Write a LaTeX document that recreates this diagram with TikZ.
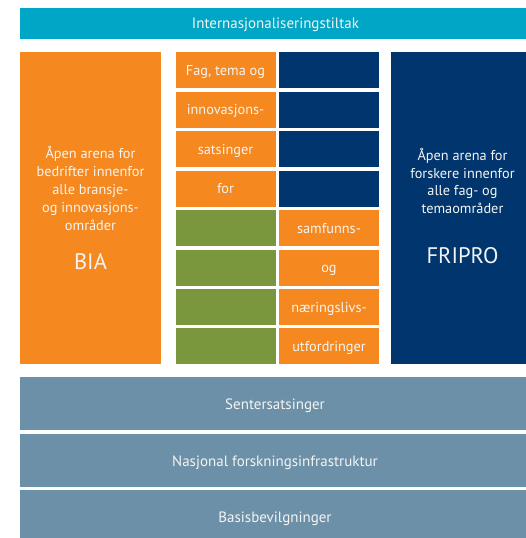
\documentclass[tikz,border=0pt]{standalone}
\usepackage{fontspec}
\setmainfont{PT Sans}
\definecolor{cyanbar}{HTML}{00A6C6}
\definecolor{orng}{HTML}{F5891F}
\definecolor{navy}{HTML}{00356D}
\definecolor{grn}{HTML}{7A973D}
\definecolor{slate}{HTML}{6C90A7}
\definecolor{txt}{HTML}{F4F4F4}
\tikzset{
  box/.style={inner sep=0pt, outer sep=0pt, anchor=north west},
  lbl/.style={inner sep=0pt, anchor=base, text=txt, font=\fontsize{15}{18}\selectfont},
  clbl/.style={inner sep=0pt, anchor=base, text=txt, font=\fontsize{14.3}{18}\selectfont},
  cell/.style={box, minimum width=100pt, minimum height=36pt},
  huge/.style={inner sep=0pt, anchor=base, text=txt, font=\fontsize{22.5}{26}\selectfont}
}
\begin{document}
\begin{tikzpicture}[x=1pt,y=-1pt]
\useasboundingbox (0,0) rectangle (526,538);
\begin{scope}
\clip (0,0) rectangle (526,538);
% top bar
\node[box, fill=cyanbar, minimum width=511pt, minimum height=31pt] (top) at (20,8) {};
\node[lbl] (toptxt) at (275.5,28) {Internasjonaliseringstiltak};
% left big
\node[box, fill=orng, minimum width=141pt, minimum height=312pt] (bia) at (20,52) {};
\node[clbl] (l1) at (90.5,158) {Åpen arena for};
\node[clbl] (l2) at (90.5,176) {bedrifter innenfor};
\node[clbl] (l3) at (90.5,194) {alle bransje-};
\node[clbl] (l4) at (90.5,212) {og innovasjons-};
\node[clbl] (l5) at (90.5,230) {områder};
\node[huge] (bialbl) at (90.5,269) {BIA};
% right big
\node[box, fill=navy, minimum width=141pt, minimum height=312pt] (fri) at (391,52) {};
\node[clbl] (r1) at (462.5,160) {Åpen arena for};
\node[clbl] (r2) at (462.5,178) {forskere innenfor};
\node[clbl] (r3) at (462.5,195.5) {alle fag- og};
\node[clbl] (r4) at (462.5,213) {temaområder};
\node[huge] (frilbl) at (462.5,263) {FRIPRO};
% middle cells
\node[cell, fill=orng] (a1) at (175.5,52) {};
\node[cell, fill=orng] (a2) at (175.5,91.5) {};
\node[cell, fill=orng] (a3) at (175.5,131) {};
\node[cell, fill=orng] (a4) at (175.5,170.5) {};
\node[cell, fill=grn] (a5) at (175.5,210) {};
\node[cell, fill=grn] (a6) at (175.5,249.5) {};
\node[cell, fill=grn] (a7) at (175.5,289) {};
\node[cell, fill=grn] (a8) at (175.5,328) {};
\node[cell, fill=navy] (b1) at (279,52) {};
\node[cell, fill=navy] (b2) at (279,91.5) {};
\node[cell, fill=navy] (b3) at (279,131) {};
\node[cell, fill=navy] (b4) at (279,170.5) {};
\node[cell, fill=orng] (b5) at (279,210) {};
\node[cell, fill=orng] (b6) at (279,249.5) {};
\node[cell, fill=orng] (b7) at (279,289) {};
\node[cell, fill=orng] (b8) at (279,328) {};
\node[clbl] (t1) at ([yshift=-5pt]a1.center) {Fag, tema og};
\node[clbl] (t2) at ([yshift=-5pt]a2.center) {innovasjons-};
\node[clbl] (t3) at ([yshift=-5pt]a3.center) {satsinger};
\node[clbl] (t4) at ([yshift=-5pt]a4.center) {for};
\node[clbl] (t5) at ([yshift=-5pt]b5.center) {samfunns-};
\node[clbl] (t6) at ([yshift=-5pt]b6.center) {og};
\node[clbl] (t7) at ([yshift=-5pt]b7.center) {næringslivs-};
\node[clbl] (t8) at ([yshift=-5pt]b8.center) {utfordringer};
% bottom bars
\node[box, fill=slate, minimum width=511pt, minimum height=53pt] (sent) at (20,377) {};
\node[lbl] (senttxt) at (275,409) {Sentersatsinger};
\node[box, fill=slate, minimum width=511pt, minimum height=53pt] (nas) at (20,434) {};
\node[lbl] (nastxt) at (275,466) {Nasjonal forskningsinfrastruktur};
\node[box, fill=slate, minimum width=511pt, minimum height=53pt] (bas) at (20,490) {};
\node[lbl] (bastxt) at (275,522) {Basisbevilgninger};
\end{scope}
\end{tikzpicture}
\end{document}
